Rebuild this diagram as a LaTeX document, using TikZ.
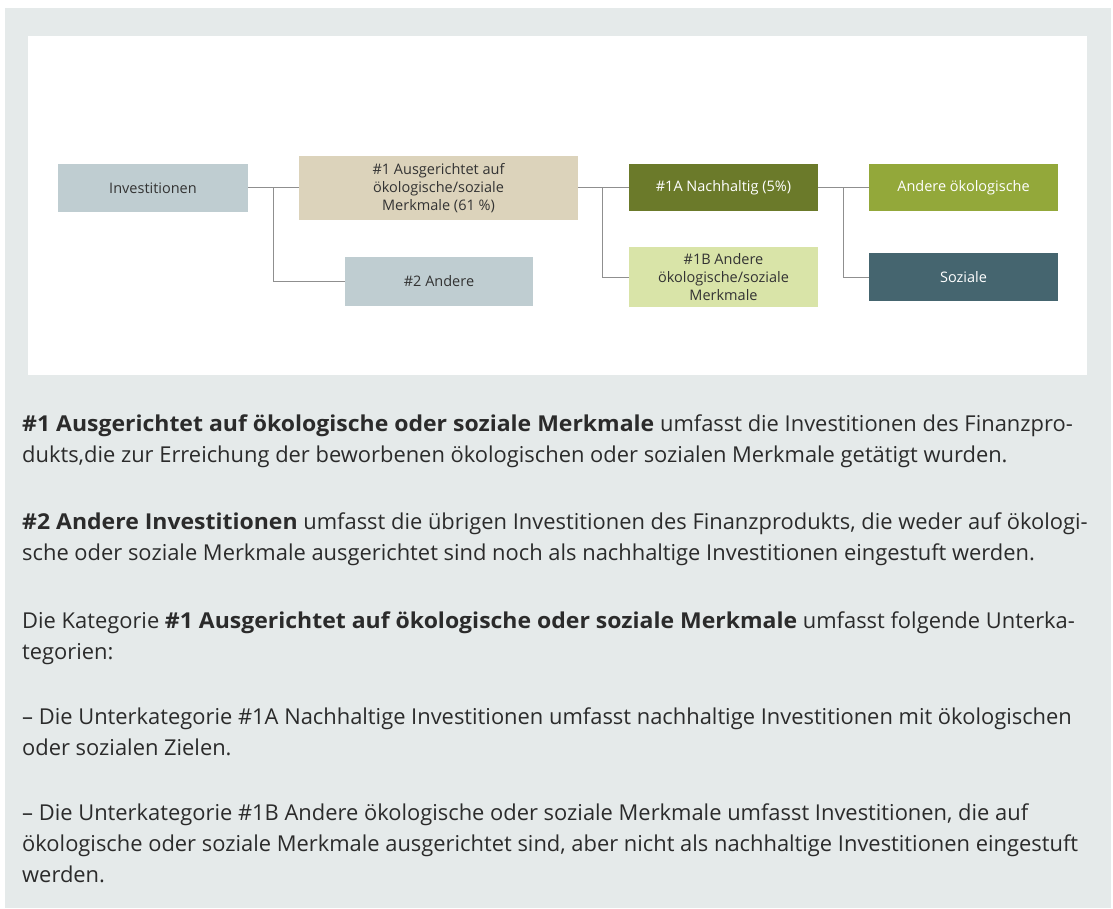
\documentclass[tikz,border=0pt]{standalone}
\usepackage{fontspec}
\setmainfont{Open Sans}[BoldFeatures={FakeStretch=1.05}]
\definecolor{panel}{HTML}{E5EAEA}
\definecolor{greyblue}{HTML}{BFCDD1}
\definecolor{beige}{HTML}{DCD3BB}
\definecolor{olive}{HTML}{6B7A2A}
\definecolor{lightgreen}{HTML}{D9E4A8}
\definecolor{midgreen}{HTML}{93A83A}
\definecolor{petrol}{HTML}{45656F}
\definecolor{linegrey}{HTML}{8F8F8F}
\definecolor{bodytext}{HTML}{2B2B2B}
\begin{document}
\begin{tikzpicture}[x=1pt,y=-1pt,
  box/.style={inner sep=0pt, align=center, font=\fontsize{14.5}{18}\selectfont, text=black!80},
  darkbox/.style={box, text=white},
  conn/.style={draw=linegrey, line width=1pt},
  body/.style={anchor=base west, inner sep=0pt, font=\fontsize{21.9}{31}\selectfont, text=bodytext}]
\useasboundingbox (0,0) rectangle (1113,909);
\fill[panel] (5,8) rectangle (1111,908);
\fill[white] (28,36) rectangle (1087,375);
% boxes
\node[box, fill=greyblue, minimum width=190pt, minimum height=48pt] (inv) at (153,188) {Investitionen};
\node[box, fill=beige, minimum width=279pt, minimum height=64pt] (one) at (438.5,188) {\#1 Ausgerichtet auf\\ökologische/soziale\\Merkmale (61 \%)};
\node[box, fill=greyblue, minimum width=188pt, minimum height=49pt] (two) at (439,281.5) {\#2 Andere};
\node[darkbox, fill=olive, minimum width=189pt, minimum height=47pt] (oneA) at (723.5,188) {\#1A Nachhaltig (5\%)};
\node[box, fill=lightgreen, minimum width=189pt, minimum height=60pt] (oneB) at (723.5,277) {\#1B Andere\\ökologische/soziale\\Merkmale};
\node[darkbox, fill=midgreen, minimum width=189pt, minimum height=47pt] (eco) at (963.5,188) {Andere ökologische};
\node[darkbox, fill=petrol, minimum width=189pt, minimum height=47pt] (soc) at (963.5,277) {Soziale};
% connectors
\coordinate (j1) at (273,188);
\coordinate (j2) at (602,188);
\coordinate (j3) at (843,188);
\draw[conn] (inv.east) -- (one.west);
\draw[conn] (j1) |- (two.west);
\draw[conn] (one.east) -- (oneA.west);
\draw[conn] (j2) |- (oneB.west);
\draw[conn] (oneA.east) -- (eco.west);
\draw[conn] (j3) |- (soc.west);
% body text
\node[body] (p1a) at (22,431) {\textbf{\#1 Ausgerichtet auf ökologische oder soziale Merkmale} umfasst die Investitionen des Finanzpro-};
\node[body] (p1b) at (22,462) {dukts,die zur Erreichung der beworbenen ökologischen oder sozialen Merkmale getätigt wurden.};
\node[body] (p2a) at (22,529) {\textbf{\#2 Andere Investitionen} umfasst die übrigen Investitionen des Finanzprodukts, die weder auf ökologi-};
\node[body] (p2b) at (22,560) {sche oder soziale Merkmale ausgerichtet sind noch als nachhaltige Investitionen eingestuft werden.};
\node[body] (p3a) at (22,628) {Die Kategorie \textbf{\#1 Ausgerichtet auf ökologische oder soziale Merkmale} umfasst folgende Unterka-};
\node[body] (p3b) at (22,659) {tegorien:};
\node[body] (p4a) at (22,724) {– Die Unterkategorie \#1A Nachhaltige Investitionen umfasst nachhaltige Investitionen mit ökologischen};
\node[body] (p4b) at (22,755) {oder sozialen Zielen.};
\node[body] (p5a) at (22,820) {– Die Unterkategorie \#1B Andere ökologische oder soziale Merkmale umfasst Investitionen, die auf};
\node[body] (p5b) at (22,851) {ökologische oder soziale Merkmale ausgerichtet sind, aber nicht als nachhaltige Investitionen eingestuft};
\node[body] (p5c) at (22,882) {werden.};
\end{tikzpicture}
\end{document}
